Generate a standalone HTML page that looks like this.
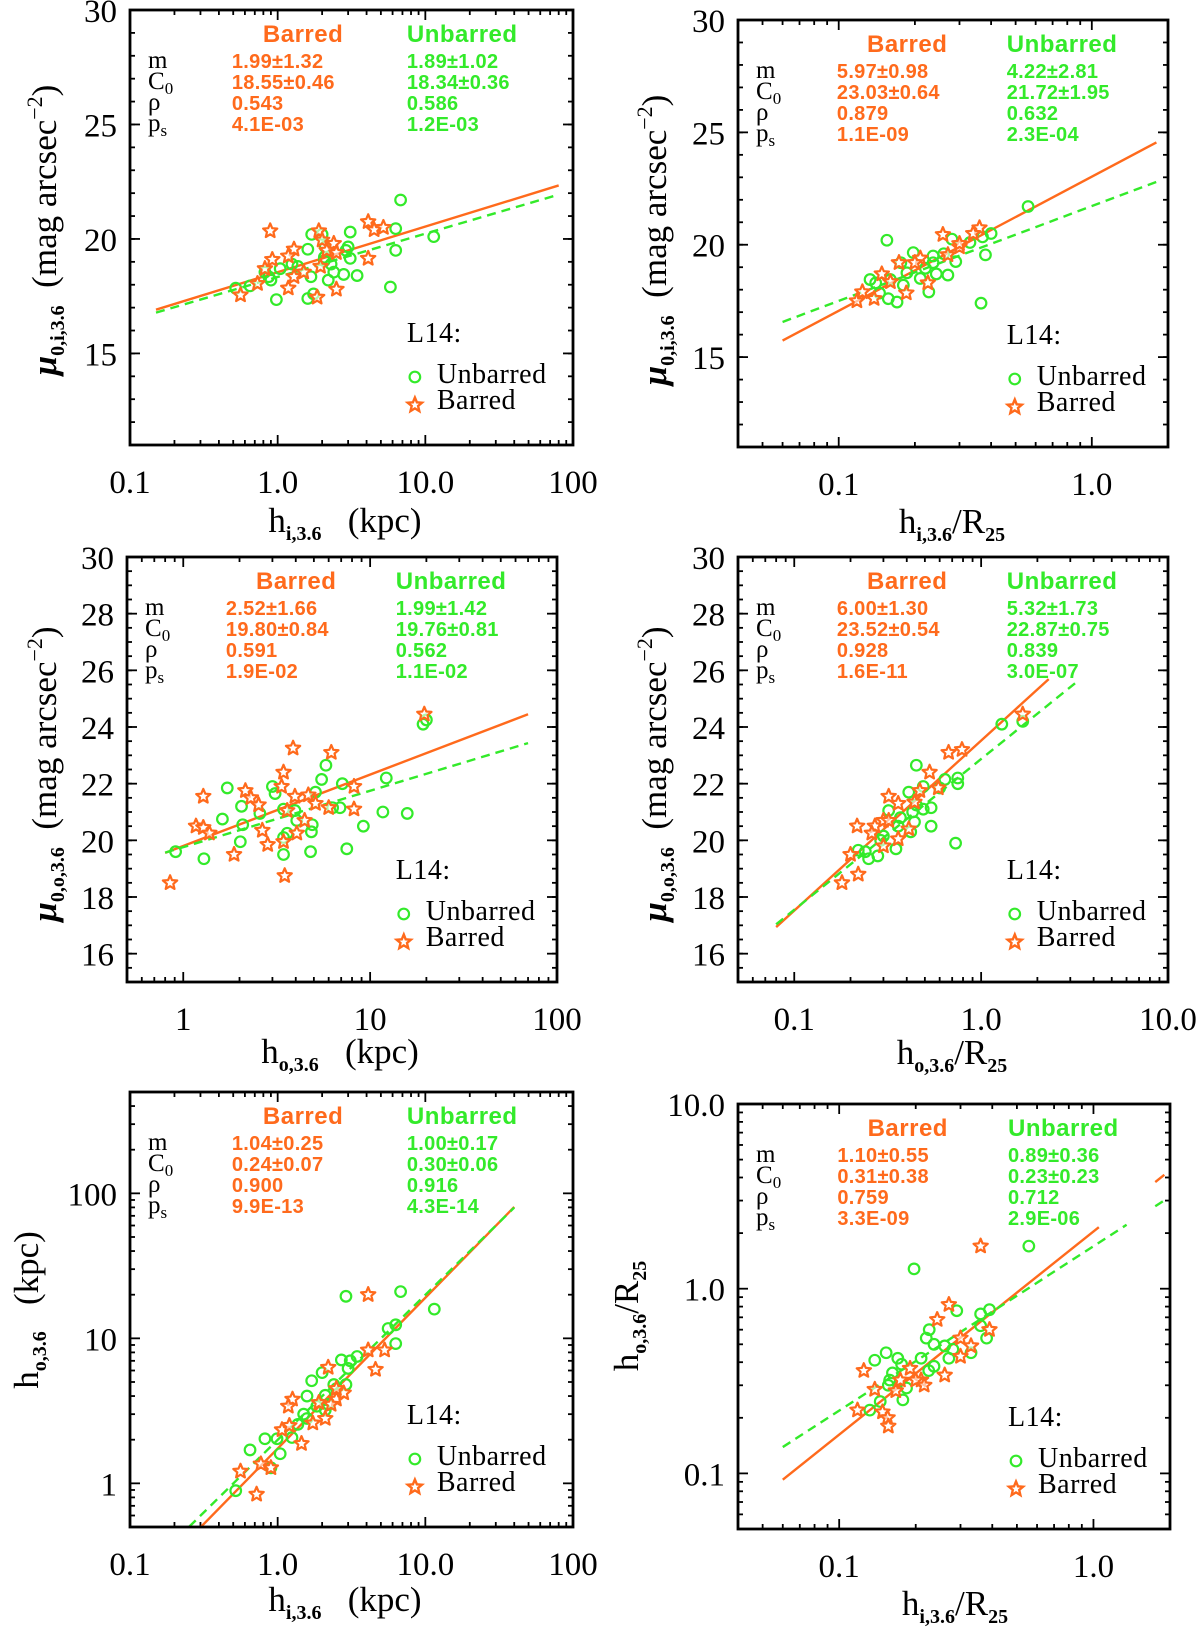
<!DOCTYPE html>
<html><head><meta charset="utf-8">
<style>
html,body{margin:0;padding:0;background:#fff;}
svg{display:block;}
.tick{font-family:"Liberation Serif",serif;font-size:33px;fill:#000;}
.ttl{font-family:"Liberation Serif",serif;font-size:35px;fill:#000;}
.st{font-family:"Liberation Sans",sans-serif;font-weight:bold;font-size:20px;letter-spacing:0.3px;}
.sh{font-family:"Liberation Sans",sans-serif;font-weight:bold;font-size:24px;letter-spacing:0.5px;}
.lab{font-family:"Liberation Serif",serif;font-size:25px;fill:#000;}
.leg{font-family:"Liberation Serif",serif;font-size:28px;fill:#000;letter-spacing:0.5px;}
</style></head>
<body>
<svg id="fig" xmlns="http://www.w3.org/2000/svg" width="1200" height="1629" viewBox="0 0 1200 1629"></svg>
<script>
// ---------- data ----------
const p1UnbarX=[6.8,3.1,1.7,2.0,6.3,11.4,2.1,1.6,6.3,3.0,2.9,3.1,0.82,1.04,1.25,1.37,2.07,2.3,1.68,2.4,2.8,3.45,0.9,2.2,0.65,0.52,5.8,0.98,1.6,1.75,0.87,2.07];
const p1UnbarY=[21.7,20.3,20.2,20.2,20.45,20.1,19.65,19.55,19.5,19.65,19.5,19.15,18.55,18.7,18.9,18.8,19.05,18.9,18.35,18.55,18.45,18.4,18.2,18.2,17.95,17.85,17.9,17.35,17.4,17.6,18.35,19.2];
const p1BarX=[0.89,4.1,4.5,5.2,1.9,2.0,2.4,1.29,1.18,0.92,0.82,0.73,1.18,1.29,0.56,1.85,2.5,4.1,2.15,1.95,1.5,2.5];
const p1BarY=[20.35,20.75,20.4,20.5,20.35,19.95,19.8,19.55,19.25,19.1,18.7,18.05,17.85,18.35,17.55,17.45,17.8,19.15,19.5,18.8,18.55,19.4];

const p2UnbarX=[0.56,0.155,0.28,0.37,0.33,0.40,0.38,0.29,0.197,0.236,0.26,0.27,0.243,0.22,0.21,0.186,0.176,0.18,0.16,0.133,0.14,0.145,0.157,0.17,0.227,0.365,0.236];
const p2UnbarY=[21.7,20.2,20.25,20.35,20.1,20.5,19.55,19.25,19.65,19.5,19.6,18.65,18.7,18.95,18.5,18.75,19.2,18.2,18.45,18.45,18.3,17.85,17.6,17.45,17.9,17.4,19.2];
const p2BarX=[0.258,0.36,0.34,0.3,0.21,0.2,0.173,0.148,0.16,0.185,0.138,0.118,0.124,0.225,0.27,0.3];
const p2BarY=[20.45,20.75,20.5,19.9,19.4,19.2,19.2,18.7,18.35,17.85,17.6,17.5,17.9,18.3,19.55,20.05];

const p3UnbarX=[20,19.2,5.8,5.5,7.1,12.2,1.72,3.0,3.1,5.1,2.05,2.57,1.62,2.08,2.02,1.29,0.91,3.44,3.6,3.44,3.96,4.05,4.9,4.85,4.8,6.3,6.9,9.2,7.5,11.7,15.8,3.44];
const p3UnbarY=[24.25,24.1,22.65,22.15,22.0,22.2,21.85,21.9,21.65,21.7,21.2,20.95,20.75,20.55,19.95,19.35,19.6,20.1,20.25,19.5,21.05,20.7,20.55,20.3,19.6,21.15,21.15,20.5,19.7,21.0,20.95,21.1];
const p3BarX=[19.5,3.87,6.2,3.44,3.36,2.15,2.3,2.53,1.28,1.17,1.28,1.38,2.65,2.83,1.87,0.85,3.49,3.44,4.05,3.96,4.67,5.1,6.0,8.2,8.2,4.46,3.6];
const p3BarY=[24.45,23.25,23.1,22.4,21.9,21.75,21.5,21.25,21.55,20.5,20.45,20.25,20.35,19.85,19.5,18.5,18.75,19.95,20.25,21.55,21.6,21.3,21.15,21.9,21.1,20.7,21.05];

const p4UnbarX=[1.29,1.67,0.45,0.64,0.75,0.75,0.41,0.49,0.32,0.37,0.43,0.45,0.44,0.54,0.49,0.54,0.42,0.36,0.3,0.29,0.35,0.28,0.25,0.24,0.22,0.73,0.6];
const p4UnbarY=[24.1,24.2,22.65,22.15,22.0,22.2,21.7,21.9,21.05,20.8,21.0,21.25,20.65,21.15,21.1,20.5,20.3,20.5,20.15,20.0,19.7,19.45,19.35,19.6,19.65,19.9,21.85];
const p4BarX=[1.67,0.67,0.79,0.53,0.32,0.36,0.47,0.44,0.59,0.27,0.3,0.32,0.26,0.217,0.3,0.36,0.2,0.18,0.22,0.41];
const p4BarY=[24.45,23.1,23.2,22.4,21.55,21.3,21.75,21.35,21.85,20.5,20.7,20.7,20.25,20.5,19.8,20.05,19.5,18.5,18.8,20.4];

const p5UnbarX=[2.9,6.8,11.5,6.3,6.3,5.6,3.45,3.1,2.7,3.0,2.0,1.7,2.4,2.9,2.5,1.58,2.1,1.84,2.2,2.1,1.5,1.58,1.37,1.25,0.99,0.82,1.04,0.65,0.9,0.52];
const p5UnbarY=[19.5,21,15.9,9.2,12.4,11.7,7.5,7.0,7.1,6.2,5.8,5.1,4.8,4.8,4.5,4.0,4.05,3.4,3.5,3.2,3.0,2.8,2.55,2.07,2.03,2.03,1.6,1.7,1.28,0.89];
const p5BarX=[4.1,2.2,4.1,5.3,4.6,1.26,1.18,1.9,2.5,2.8,2.5,2.3,2.1,1.73,1.07,1.2,1.45,0.77,0.56,0.72,0.9];
const p5BarY=[20,6.3,8.3,8.3,6.1,3.8,3.4,3.6,3.8,4.2,4.5,3.5,2.8,2.6,2.34,2.5,1.88,1.36,1.21,0.84,1.28];

const p6UnbarX=[0.557,0.197,0.29,0.36,0.39,0.36,0.38,0.226,0.22,0.236,0.26,0.28,0.27,0.33,0.21,0.236,0.225,0.17,0.176,0.153,0.138,0.162,0.158,0.156,0.184,0.178,0.145,0.132];
const p6UnbarY=[1.7,1.28,0.76,0.73,0.77,0.63,0.54,0.6,0.54,0.5,0.49,0.47,0.42,0.45,0.42,0.38,0.36,0.42,0.39,0.45,0.41,0.35,0.32,0.3,0.29,0.25,0.245,0.22];
const p6BarX=[0.36,0.27,0.243,0.39,0.3,0.33,0.3,0.26,0.21,0.2,0.216,0.19,0.167,0.138,0.125,0.118,0.148,0.155,0.156,0.174];
const p6BarY=[1.7,0.82,0.68,0.6,0.54,0.49,0.43,0.34,0.32,0.32,0.3,0.37,0.28,0.285,0.36,0.22,0.215,0.2,0.18,0.32];

// fit parameters [barred, unbarred]
const p1Slope=[1.99,1.89], p1Icpt=[18.55,18.34];
const p2Slope=[5.97,4.22], p2Icpt=[23.03,21.72];
const p3Slope=[2.52,1.99], p3Icpt=[19.80,19.76];
const p4Slope=[6.00,5.32], p4Icpt=[23.52,22.87];
const p5Slope=[1.04,1.00], p5Icpt=[0.24,0.30];
const p6Slope=[1.10,0.89], p6Icpt=[0.31,0.23];

// stats strings
const p1StatB=["1.99±1.32","18.55±0.46","0.543","4.1E-03"], p1StatU=["1.89±1.02","18.34±0.36","0.586","1.2E-03"];
const p2StatB=["5.97±0.98","23.03±0.64","0.879","1.1E-09"], p2StatU=["4.22±2.81","21.72±1.95","0.632","2.3E-04"];
const p3StatB=["2.52±1.66","19.80±0.84","0.591","1.9E-02"], p3StatU=["1.99±1.42","19.76±0.81","0.562","1.1E-02"];
const p4StatB=["6.00±1.30","23.52±0.54","0.928","1.6E-11"], p4StatU=["5.32±1.73","22.87±0.75","0.839","3.0E-07"];
const p5StatB=["1.04±0.25","0.24±0.07","0.900","9.9E-13"], p5StatU=["1.00±0.17","0.30±0.06","0.916","4.3E-14"];
const p6StatB=["1.10±0.55","0.31±0.38","0.759","3.3E-09"], p6StatU=["0.89±0.36","0.23±0.23","0.712","2.9E-06"];

// tick values/labels
const xTicksA=[0.1,1,10,100], xLabelsA=["0.1","1.0","10.0","100"];
const xTicksB=[0.1,1], xLabelsB=["0.1","1.0"];
const xTicksC=[1,10,100], xLabelsC=["1","10","100"];
const xTicksD=[0.1,1,10], xLabelsD=["0.1","1.0","10.0"];
const yTicksA=[15,20,25,30], yLabelsA=["15","20","25","30"];
const yTicksC=[16,18,20,22,24,26,28,30], yLabelsC=["16","18","20","22","24","26","28","30"];
const yTicksE=[1,10,100], yLabelsE=["1","10","100"];
const yTicksF=[0.1,1,10], yLabelsF=["0.1","1.0","10.0"];

// ---------- drawing ----------
const NS="http://www.w3.org/2000/svg";
const svg=document.getElementById('fig');
const ORANGE="#ff6a1c", GREEN="#33ea2a";
function mk(tag,attrs,parent){const e=document.createElementNS(NS,tag);for(const k in attrs)e.setAttribute(k,attrs[k]);(parent||svg).appendChild(e);return e;}
function lg(v){return Math.log10(v);}

function minorLog(a,b){const out=[];for(let d=Math.floor(lg(a));d<=Math.ceil(lg(b));d++){for(let k=2;k<=9;k++){const v=k*Math.pow(10,d);if(v>=a*0.999&&v<=b*1.001)out.push(v);}}return out;}
function minorLin(a,b,s){const out=[];for(let v=Math.ceil(a/s)*s;v<=b+1e-9;v+=s)out.push(v);return out;}

function starPath(cx,cy,r){let d="";for(let i=0;i<10;i++){const ang=-Math.PI/2+i*Math.PI/5;const rr=i%2?r*0.45:r;d+=(i?"L":"M")+(cx+rr*Math.cos(ang)).toFixed(1)+","+(cy+rr*Math.sin(ang)).toFixed(1);}return d+"Z";}

function panel(c){
  const g=mk('g',{});
  
  
  const W=c.R-c.L,H=c.B-c.T;
  const sx=v=>c.L+(lg(v)-lg(c.x0))/(lg(c.x1)-lg(c.x0))*W;
  const sy=c.ylog?(v=>c.B-(lg(v)-lg(c.y0))/(lg(c.y1)-lg(c.y0))*H):(v=>c.B-(v-c.y0)/(c.y1-c.y0)*H);
  const tg=mk('g',{stroke:'#000','stroke-width':1.8},g);
  
  
  c.xt.forEach(v=>{const x=sx(v);mk('line',{x1:x,x2:x,y1:c.B,y2:c.B-10},tg);mk('line',{x1:x,x2:x,y1:c.T,y2:c.T+10},tg);});
  minorLog(c.x0,c.x1).forEach(v=>{const x=sx(v);mk('line',{x1:x,x2:x,y1:c.B,y2:c.B-5},tg);mk('line',{x1:x,x2:x,y1:c.T,y2:c.T+5},tg);});
  c.yt.forEach(v=>{const y=sy(v);mk('line',{x1:c.L,x2:c.L+10,y1:y,y2:y},tg);mk('line',{x1:c.R,x2:c.R-10,y1:y,y2:y},tg);});
  const ym=c.ylog?minorLog(c.y0,c.y1):minorLin(c.y0,c.y1,c.ymin);
  ym.forEach(v=>{const y=sy(v);mk('line',{x1:c.L,x2:c.L+5,y1:y,y2:y},tg);mk('line',{x1:c.R,x2:c.R-5,y1:y,y2:y},tg);});
  c.xt.forEach((v,i)=>{const t=mk('text',{x:sx(v),y:c.B+48,'text-anchor':'middle',class:'tick'},g);t.textContent=c.xl[i];
    
    });
  c.yt.forEach((v,i)=>{const t=mk('text',{x:c.L-13,y:sy(v)+12,'text-anchor':'end',class:'tick'},g);t.textContent=c.yl[i];
    
    });
  const fy=(m,b,x)=>c.ylog?Math.pow(10,m*lg(x)+b):m*lg(x)+b;
  c.segB.forEach(s=>{const l=mk('line',{x1:sx(s[0]),y1:sy(fy(c.slope[0],c.icpt[0],s[0])),x2:sx(s[1]),y2:sy(fy(c.slope[0],c.icpt[0],s[1])),stroke:ORANGE,'stroke-width':2.4},g);
    
    });
  c.segU.forEach(s=>{const l=mk('line',{x1:sx(s[0]),y1:sy(fy(c.slope[1],c.icpt[1],s[0])),x2:sx(s[1]),y2:sy(fy(c.slope[1],c.icpt[1],s[1])),stroke:GREEN,'stroke-width':2.4,'stroke-dasharray':'9,6'},g);
    
    });
  c.ux.forEach((x,i)=>{const p=mk('circle',{cx:sx(x),cy:sy(c.uy[i]),r:5.3,fill:'none',stroke:GREEN,'stroke-width':2.2},g);
    
    });
  c.bx.forEach((x,i)=>{const p=mk('path',{d:starPath(sx(x),sy(c.by[i]),7.5),fill:'#fff','fill-opacity':0.6,stroke:ORANGE,'stroke-width':2.2,'stroke-linejoin':'round'},g);
    
    });
  const bx=mk('rect',{x:c.L,y:c.T,width:W,height:H,fill:'none',stroke:'#000','stroke-width':2.8},g);
  
  
  const sg=mk('g',{},g);
  
  
  let t=mk('text',{x:c.L+0.30*W,y:c.T+32,class:'sh',fill:ORANGE},sg);t.textContent="Barred";
  t=mk('text',{x:c.L+0.625*W,y:c.T+32,class:'sh',fill:GREEN},sg);t.textContent="Unbarred";
  const rowY=[58,79,100,121];
  const labs=[["m",""],["C","0"],["ρ",""],["p","s"]];
  labs.forEach((lb,i)=>{const tt=mk('text',{x:c.L+18,y:c.T+rowY[i],class:'lab'},sg);tt.textContent=lb[0];
    if(lb[1]){const s=mk('tspan',{'font-size':'17','dy':'5'},tt);s.textContent=lb[1];}});
  c.sb.forEach((s,i)=>{const tt=mk('text',{x:c.L+0.23*W,y:c.T+rowY[i],class:'st',fill:ORANGE},sg);tt.textContent=s;});
  c.su.forEach((s,i)=>{const tt=mk('text',{x:c.L+0.625*W,y:c.T+rowY[i],class:'st',fill:GREEN},sg);tt.textContent=s;});
  const lgG=mk('g',{},g);
  
  
  const lx=c.R-0.375*W;
  t=mk('text',{x:lx,y:c.B-103,class:'leg'},lgG);t.textContent="L14:";
  mk('circle',{cx:lx+8,cy:c.B-68,r:5.3,fill:'none',stroke:GREEN,'stroke-width':2.2},lgG);
  t=mk('text',{x:lx+30,y:c.B-62,class:'leg'},lgG);t.textContent="Unbarred";
  mk('path',{d:starPath(lx+8,c.B-40,7.5),fill:'#fff',stroke:ORANGE,'stroke-width':2.4},lgG);
  t=mk('text',{x:lx+30,y:c.B-36,class:'leg'},lgG);t.textContent="Barred";
  const xt=mk('text',{x:c.xtx,y:c.B+c.xty,'text-anchor':'middle',class:'ttl'},g);
  
  
  buildTitle(xt,c.xtitle);
  const yt=mk('text',{x:0,y:0,'text-anchor':'middle',class:'ttl',transform:`translate(${c.ytx},${c.yty}) rotate(-90)`},g);
  
  
  buildTitle(yt,c.ytitle);
}
function buildTitle(el,parts){
  parts.forEach(p=>{const s=mk('tspan',{},el);s.textContent=p[0];
    if(p[1]==='sub'){s.setAttribute('font-size','20');s.setAttribute('font-weight','bold');s.setAttribute('dy','8');}
    else if(p[1]==='sup'){s.setAttribute('font-size','22');s.setAttribute('dy','-14');}
    else if(p[1]==='mu'){s.setAttribute('font-style','italic');s.setAttribute('font-weight','bold');}
    else if(p[1]==='back'){s.setAttribute('dy','-8');}
    else if(p[1]==='backsup'){s.setAttribute('dy','14');}
  });
}
const tMu=(s)=>[["μ","mu"],[s,"sub"],["\u00a0\u00a0(mag arcsec","back"],["−2","sup"],[")","backsup"]];
const tH=(s,rest)=>[["h","n"],[s,"sub"],[rest,"back"]];

panel({name:'panel-mu0i-vs-hi-kpc',L:130,R:573,T:10,B:445,x0:0.1,x1:100,y0:11,y1:30,ylog:false,ymin:1,
  xt:xTicksA,xl:xLabelsA,yt:yTicksA,yl:yLabelsA,ux:p1UnbarX,uy:p1UnbarY,bx:p1BarX,by:p1BarY,
  slope:p1Slope,icpt:p1Icpt,segB:[[0.15,80]],segU:[[0.15,80]],sb:p1StatB,su:p1StatU,
  xtx:345,xty:87,xtitle:tH("i,3.6","\u00a0\u00a0\u00a0(kpc)"),ytx:56,yty:230,ytitle:tMu("0,i,3.6")});
panel({name:'panel-mu0i-vs-hi-r25',L:738,R:1168,T:20,B:447,x0:0.04,x1:2,y0:11,y1:30,ylog:false,ymin:1,
  xt:xTicksB,xl:xLabelsB,yt:yTicksA,yl:yLabelsA,ux:p2UnbarX,uy:p2UnbarY,bx:p2BarX,by:p2BarY,
  slope:p2Slope,icpt:p2Icpt,segB:[[0.06,1.8]],segU:[[0.06,1.8]],sb:p2StatB,su:p2StatU,
  xtx:952,xty:86,xtitle:tH("i,3.6","/R"),ytx:666,yty:240,ytitle:tMu("0,i,3.6")});
panel({name:'panel-mu0o-vs-ho-kpc',L:127,R:557,T:557,B:982,x0:0.5,x1:100,y0:15,y1:30,ylog:false,ymin:0.5,
  xt:xTicksC,xl:xLabelsC,yt:yTicksC,yl:yLabelsC,ux:p3UnbarX,uy:p3UnbarY,bx:p3BarX,by:p3BarY,
  slope:p3Slope,icpt:p3Icpt,segB:[[0.8,70]],segU:[[0.8,70]],sb:p3StatB,su:p3StatU,
  xtx:340,xty:81,xtitle:tH("o,3.6","\u00a0\u00a0\u00a0(kpc)"),ytx:56,yty:774,ytitle:tMu("0,o,3.6")});
panel({name:'panel-mu0o-vs-ho-r25',L:738,R:1168,T:557,B:982,x0:0.05,x1:10,y0:15,y1:30,ylog:false,ymin:0.5,
  xt:xTicksD,xl:xLabelsD,yt:yTicksC,yl:yLabelsC,ux:p4UnbarX,uy:p4UnbarY,bx:p4BarX,by:p4BarY,
  slope:p4Slope,icpt:p4Icpt,segB:[[0.08,2.3]],segU:[[0.08,3.3]],sb:p4StatB,su:p4StatU,
  xtx:952,xty:82,xtitle:tH("o,3.6","/R"),ytx:666,yty:774,ytitle:tMu("0,o,3.6")});
panel({name:'panel-ho-vs-hi-kpc',L:130,R:573,T:1092,B:1527,x0:0.1,x1:100,y0:0.5,y1:500,ylog:true,
  xt:xTicksA,xl:xLabelsA,yt:yTicksE,yl:yLabelsE,ux:p5UnbarX,uy:p5UnbarY,bx:p5BarX,by:p5BarY,
  slope:p5Slope,icpt:p5Icpt,segB:[[0.302,40]],segU:[[0.252,40]],sb:p5StatB,su:p5StatU,
  xtx:345,xty:84,xtitle:tH("i,3.6","\u00a0\u00a0\u00a0(kpc)"),ytx:38,yty:1310,ytitle:tH("o,3.6","\u00a0\u00a0\u00a0(kpc)")});
panel({name:'panel-ho-vs-hi-r25',L:738,R:1170,T:1104,B:1529,x0:0.04,x1:2,y0:0.05,y1:10,ylog:true,
  xt:xTicksB,xl:xLabelsB,yt:yTicksF,yl:yLabelsF,ux:p6UnbarX,uy:p6UnbarY,bx:p6BarX,by:p6BarY,
  slope:p6Slope,icpt:p6Icpt,segB:[[0.06,1.05],[1.75,1.9]],segU:[[0.06,1.35],[1.75,1.9]],sb:p6StatB,su:p6StatU,
  xtx:955,xty:86,xtitle:tH("i,3.6","/R"),ytx:638,yty:1316,ytitle:tH("o,3.6","/R")});

document.querySelectorAll('text.ttl').forEach(t=>{
  const last=t.lastChild;
  if(last&&last.textContent==='/R'){const s=mk('tspan',{'font-size':'20','font-weight':'bold','dy':'8'},t);s.textContent='25';}
});
</script>
</body></html>
